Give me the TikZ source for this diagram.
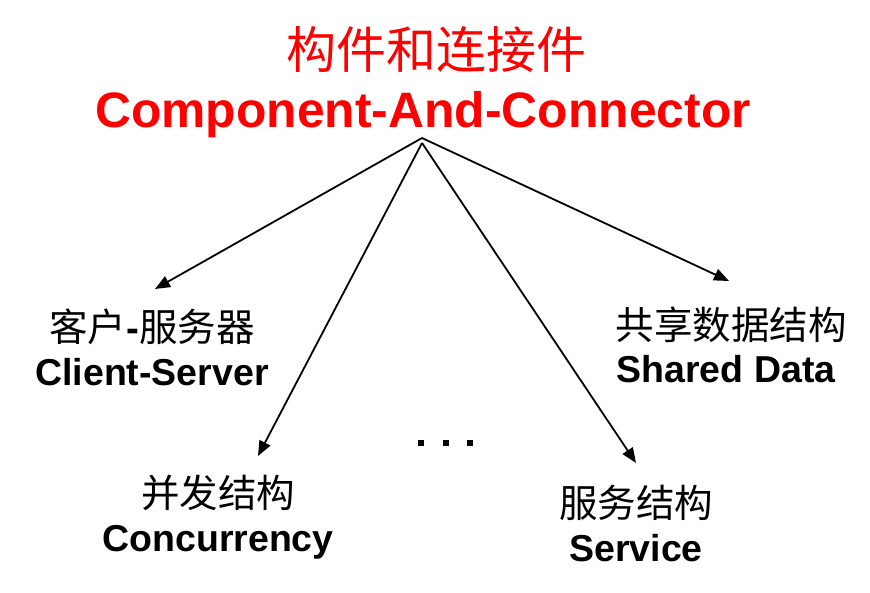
\documentclass[tikz,border=0pt]{standalone}
\usepackage{fontspec}
\setmainfont{Liberation Sans}
\newfontfamily\cjk{Noto Sans CJK SC}
\usetikzlibrary{arrows.meta}
\definecolor{titlered}{RGB}{255,0,0}
\tikzset{
  cn/.style={font=\cjk\fontsize{38.5}{40}\selectfont, inner sep=0pt, anchor=center},
  en/.style={font=\bfseries\fontsize{37.5}{40}\selectfont, inner sep=0pt, anchor=base},
  conn/.style={line width=1.8pt, -{Triangle[length=15pt,width=12pt]}},
  dot/.style={fill=black, minimum size=6.5pt, inner sep=0pt}
}
\begin{document}
\begin{tikzpicture}[x=1pt,y=-1pt]
\useasboundingbox (0,0) rectangle (870,593);
% title
\node[cn, text=titlered, font=\cjk\fontsize{50}{52}\selectfont] (tcn) at (436,50) {构件和连接件};
\node[en, text=titlered, font=\bfseries\fontsize{49.8}{52}\selectfont] (ten) at (423,128) {Component-And-Connector};
\coordinate (apex) at (422,138);
\coordinate (apex2) at (422,143);
% labels
\node[cn] (cscn) at (152,327) {客户{\rmfamily\bfseries -}服务器};
\node[en] (csen) at (152,385) {Client-Server};
\node[cn] (sdcn) at (731,325) {共享数据结构};
\node[en] (sden) at (726,383) {Shared Data};
\node[cn] (cccn) at (218,493) {并发结构};
\node[en] (ccen) at (218,551) {Concurrency};
\node[cn] (svcn) at (636,503) {服务结构};
\node[en] (sven) at (636,561) {Service};
% arrow tips
\coordinate (tcs) at (155,289);
\coordinate (tsd) at (729,281);
\coordinate (tcc) at (258,456);
\coordinate (tsv) at (636,463);
\draw[conn] (apex) -- (tcs);
\draw[conn] (apex) -- (tsd);
\draw[conn] (apex2) -- (tcc);
\draw[conn] (apex2) -- (tsv);
% dots
\node[dot] (d1) at (421,443) {};
\node[dot] (d2) at (446,443) {};
\node[dot] (d3) at (470,443) {};
\end{tikzpicture}
\end{document}
